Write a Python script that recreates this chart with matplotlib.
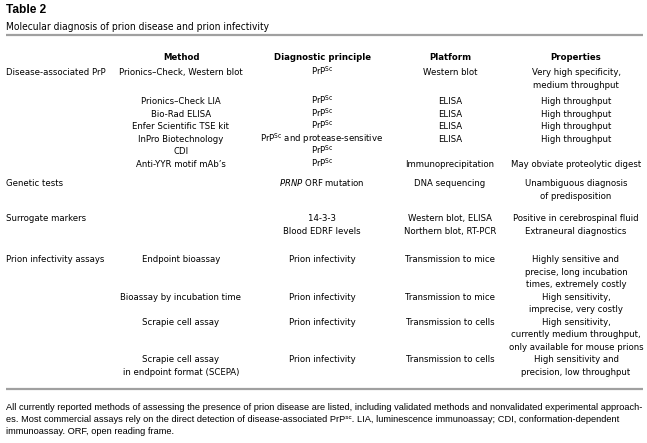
import matplotlib
matplotlib.use("Agg")
import matplotlib.pyplot as plt

plt.rcParams['mathtext.fontset'] = 'custom'
plt.rcParams['mathtext.rm'] = 'DejaVu Sans:stretch=condensed'
plt.rcParams['mathtext.it'] = 'DejaVu Sans:italic:stretch=condensed'

NARROW = dict(family='DejaVu Sans', fontstretch='condensed')
PLAIN = ['Liberation Sans', 'DejaVu Sans']
SC = r'PrP$^{\mathrm{Sc}}$'

title = "Table 2"
subtitle = "Molecular diagnosis of prion disease and prion infectivity"
headers = ["Method", "Diagnostic principle", "Platform", "Properties"]

categories = ["Disease-associated PrP", "Genetic tests", "Surrogate markers",
              "Prion infectivity assays"]
category_rows = [0, 7, 8, 10]

methods = ["Prionics\u2013Check, Western blot", "Prionics\u2013Check LIA", "Bio-Rad ELISA",
           "Enfer Scientific TSE kit", "InPro Biotechnology", "CDI", "Anti-YYR motif mAb\u2019s",
           "", "", "", "Endpoint bioassay", "Bioassay by incubation time",
           "Scrapie cell assay", "Scrapie cell assay\nin endpoint format (SCEPA)"]
principles = [SC, SC, SC, SC, SC + " and protease-sensitive", SC, SC,
              r"$\mathit{PRNP}$ ORF mutation", "14-3-3", "Blood EDRF levels",
              "Prion infectivity", "Prion infectivity", "Prion infectivity", "Prion infectivity"]
platforms = ["Western blot", "ELISA", "ELISA", "ELISA", "ELISA", "", "Immunoprecipitation",
             "DNA sequencing", "Western blot, ELISA", "Northern blot, RT-PCR",
             "Transmission to mice", "Transmission to mice", "Transmission to cells",
             "Transmission to cells"]
properties = ["Very high specificity,\nmedium throughput", "High throughput", "High throughput",
              "High throughput", "High throughput", "", "May obviate proteolytic digest",
              "Unambiguous diagnosis\nof predisposition", "Positive in cerebrospinal fluid",
              "Extraneural diagnostics",
              "Highly sensitive and\nprecise, long incubation\ntimes, extremely costly",
              "High sensitivity,\nimprecise, very costly",
              "High sensitivity,\ncurrently medium throughput,\nonly available for mouse prions",
              "High sensitivity and\nprecision, low throughput"]

footnote_lines = [
    "All currently reported methods of assessing the presence of prion disease are listed, "
    "including validated methods and nonvalidated experimental approach-",
    "es. Most commercial assays rely on the direct detection of disease-associated "
    "PrP\u02e2\u1d9c. LIA, luminescence immunoassay; CDI, conformation-dependent",
    "immunoassay. ORF, open reading frame.",
]

# layout in pixel units
W, H = 647, 443
row_y = [72, 101, 113.5, 126, 138.5, 151, 163.5, 183, 218, 231, 259, 296.5, 321.5, 359]
col_x = [181, 322, 450, 576]
fs = 6.8
lh = 12.5     # line height
base = 3.3    # offset from line centre to baseline

fig = plt.figure(figsize=(W / 100, H / 100), dpi=100)
ax = fig.add_axes([0, 0, 1, 1])
ax.set_xlim(0, W)
ax.set_ylim(H, 0)
ax.axis('off')

ax.text(6, 10, title, fontsize=8.6, fontweight='bold', family=PLAIN, va='center')
ax.text(6, 26 + 3.5, subtitle, fontsize=7.3, va='baseline', **NARROW)
ax.plot([6, 643], [35, 35], color='#a0a0a0', lw=1.6, solid_capstyle='butt')
ax.plot([6, 643], [389, 389], color='#a0a0a0', lw=1.6, solid_capstyle='butt')

for x, h in zip(col_x, headers):
    ax.text(x, 57 + base, h, fontsize=fs, fontweight='bold', ha='center', va='baseline', **NARROW)

for cat, r in zip(categories, category_rows):
    ax.text(6, row_y[r] + base, cat, fontsize=fs, va='baseline', **NARROW)

for col, x in zip([methods, principles, platforms, properties], col_x):
    for y, s in zip(row_y, col):
        for i, line in enumerate(s.split('\n')):
            if line:
                ax.text(x, y + i * lh + base, line, fontsize=fs, ha='center', va='baseline', **NARROW)

for i, line in enumerate(footnote_lines):
    ax.text(6, 407 + i * 12.5, line, fontsize=6.7, family=PLAIN, va='center')

fig.savefig("out.png", dpi=100)
